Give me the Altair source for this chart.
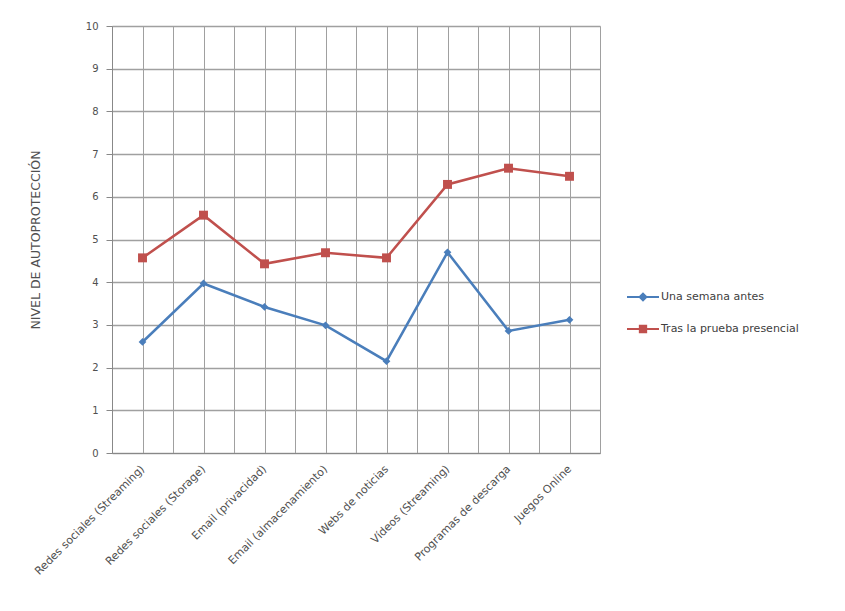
import altair as alt
import pandas as pd

categories = [
    "Redes sociales (Streaming)",
    "Redes sociales (Storage)",
    "Email (privacidad)",
    "Email (almacenamiento)",
    "Webs de noticias",
    "Vídeos (Streaming)",
    "Programas de descarga",
    "Juegos Online",
]
series_names = ["Una semana antes", "Tras la prueba presencial"]
antes = [2.6, 3.97, 3.42, 2.99, 2.15, 4.7, 2.86, 3.12]
tras = [4.57, 5.57, 4.43, 4.69, 4.57, 6.29, 6.67, 6.48]
y_ticks = list(range(0, 11))

rows = []
for i, c in enumerate(categories):
    rows.append({"idx": i + 1, "cat": c, "serie": series_names[0], "valor": antes[i]})
    rows.append({"idx": i + 1, "cat": c, "serie": series_names[1], "valor": tras[i]})
df = pd.DataFrame(rows)

blue = "#4A7EBB"
red = "#C0504D"
font = "DejaVu Sans"
text_color = "#505050"

label_js = "[" + ",".join("'" + c + "'" for c in categories) + "]"
x_vals = [i / 2 for i in range(1, 18)]

x_enc = alt.X(
    "idx:Q",
    scale=alt.Scale(domain=[0.5, 8.5], nice=False, zero=False),
    axis=alt.Axis(
        values=x_vals,
        labelExpr=f"datum.value % 1 == 0 ? {label_js}[datum.value - 1] : ''",
        labelAngle=-45,
        labelAlign="right",
        labelBaseline="middle",
        labelPadding=14,
        tickSize=0,
        grid=True,
        gridColor="#a0a0a0",
        gridWidth=1,
        domainColor="#888888",
        labelColor=text_color,
        labelFontSize=11,
        labelFont=font,
        labelOverlap=False,
        labelBound=False,
        labelLimit=300,
        title=None,
    ),
)
y_enc = alt.Y(
    "valor:Q",
    scale=alt.Scale(domain=[0, 10], nice=False),
    axis=alt.Axis(
        values=y_ticks,
        grid=True,
        gridColor="#a0a0a0",
        gridWidth=1.3,
        tickSize=6,
        tickColor="#888888",
        domainColor="#888888",
        labelColor=text_color,
        labelFontSize=10,
        labelFont=font,
        labelPadding=8,
        title="NIVEL DE AUTOPROTECCIÓN",
        titleFont=font,
        titleFontSize=12.5,
        titleFontWeight="normal",
        titleColor=text_color,
        titlePadding=43,
    ),
)

color_scale = alt.Scale(domain=series_names, range=[blue, red])

legend_blue = "M-1,-0.07H1V0.07H-1Z M-0.3,0L0,-0.3L0.3,0L0,0.3Z"
legend_red = "M-1,-0.07H1V0.07H-1Z M-0.26,-0.26H0.26V0.26H-0.26Z"

base = alt.Chart(df)

lines = base.mark_line(strokeWidth=2.5).encode(
    x=x_enc,
    y=y_enc,
    color=alt.Color("serie:N", scale=color_scale, legend=None),
    detail="serie:N",
)

pts_blue = base.transform_filter(alt.datum.serie == series_names[0]).mark_point(
    shape="diamond", filled=True, size=60, opacity=1
).encode(x=x_enc, y=y_enc, color=alt.Color("serie:N", scale=color_scale, legend=None))

pts_red = base.transform_filter(alt.datum.serie == series_names[1]).mark_point(
    shape="square", filled=True, size=80, opacity=1
).encode(x=x_enc, y=y_enc, color=alt.Color("serie:N", scale=color_scale, legend=None))

leg = alt.Legend(
    title=None,
    orient="none",
    legendX=515,
    legendY=255,
    symbolSize=1024,
    symbolOpacity=1,
    symbolStrokeWidth=0,
    labelFont=font,
    labelFontSize=11,
    labelColor="#404040",
    rowPadding=11,
    labelOffset=2,
    labelLimit=300,
)

legend_layer = base.mark_point(filled=True, opacity=0).encode(
    x=x_enc,
    y=y_enc,
    color=alt.Color("serie:N", scale=color_scale, legend=leg),
    shape=alt.Shape(
        "serie:N",
        scale=alt.Scale(domain=series_names, range=[legend_blue, legend_red]),
        legend=leg,
    ),
)

chart = (
    alt.layer(lines, pts_blue, pts_red, legend_layer)
    .resolve_legend(color="independent", shape="independent")
    .properties(
        width=488,
        height=427,
        autosize=alt.AutoSizeParams(type="none"),
        padding={"left": 104, "top": 18, "right": 225, "bottom": 140},
    )
    .configure_view(stroke="#888888", strokeWidth=1)
    .configure(background="white")
)

chart.save("out.html", embed_options={"renderer": "svg", "actions": False})
